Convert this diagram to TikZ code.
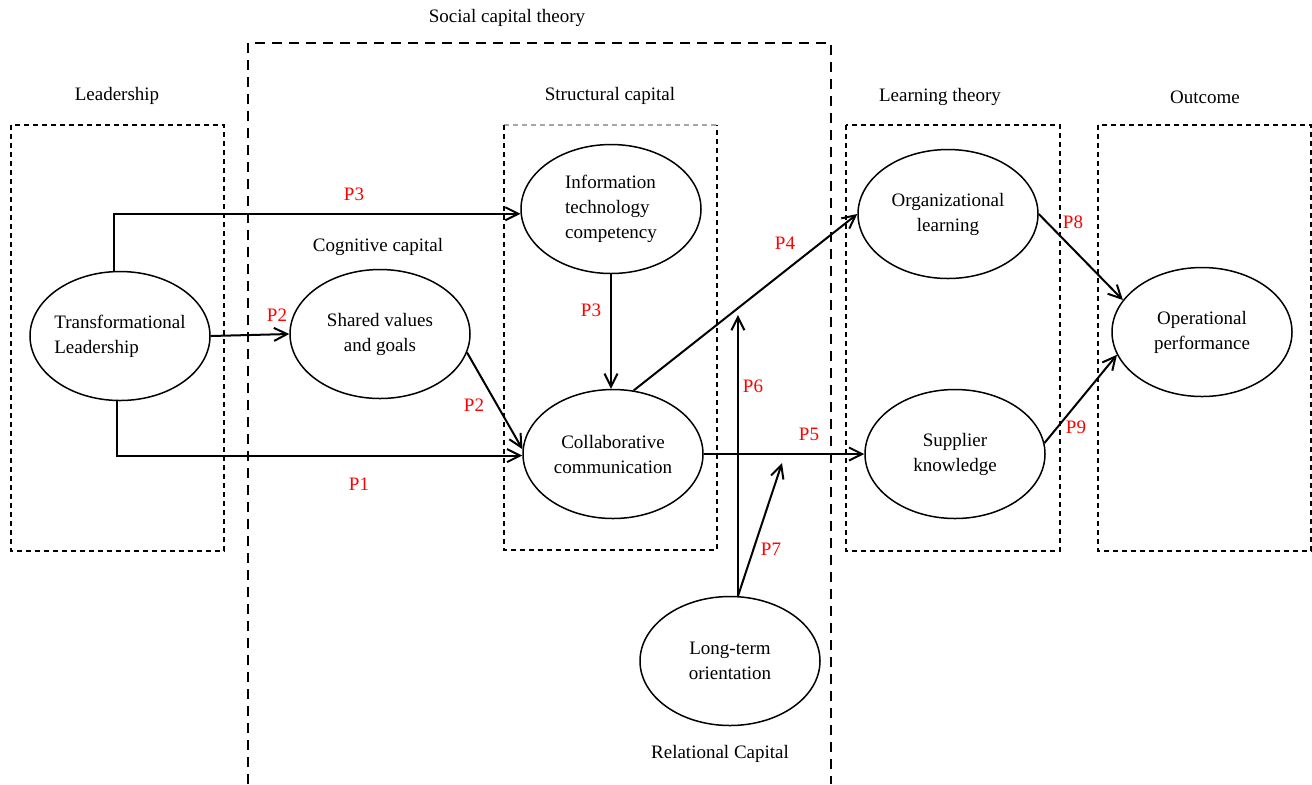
\documentclass[tikz,border=0pt]{standalone}
\usepackage{fontspec}
\setmainfont{Liberation Serif}
\usetikzlibrary{arrows.meta,shapes,calc}

\begin{document}
\begin{tikzpicture}[x=0.5pt,y=-0.5pt,
	every node/.style={font=\fontsize{9.5}{12.5}\selectfont},
	construct/.style={draw,ellipse,line width=0.75pt,minimum width=90pt,minimum height=64.5pt,inner sep=0pt,align=center},
	plabel/.style={text=red},
	link/.style={line width=1pt},
	shortdash/.style={line width=0.65pt,dash pattern=on 2.5pt off 2pt},
	longdash/.style={line width=0.65pt,dash pattern=on 5pt off 3.5pt},
	>={Straight Barb[length=6.5pt,width=6.5pt]}]
	
	\useasboundingbox (0,0) rectangle (1312,784);
	
	% boxes
	\draw[shortdash] (11,125) rectangle (224,551);
	\draw[longdash] (248,784) -- (248,43) -- (831,43) -- (831,784);
	\draw[shortdash,gray!70] (504,125) -- (717,125);
	\draw[shortdash] (504,125) -- (504,550) -- (717,550) -- (717,125);
	\draw[shortdash] (846,125) rectangle (1060,551);
	\draw[shortdash] (1098,125) rectangle (1311,551);
	
	\node (social) at (507,18) {Social capital theory};
	\node (lead) at (117,96) {Leadership};
	\node (struct) at (610,96) {Structural capital};
	\node (learn) at (940,97) {Learning theory};
	\node (outcome) at (1205,97) {Outcome};
	\node (cogn) at (378,247) {Cognitive capital};
	\node (relat) at (720,754) {Relational Capital};
	
	\node[construct,align=left,inner xsep=-2pt] (tl) at (120,336) {Transformational\\Leadership};
	\node[construct] (sv) at (380,334) {Shared values\\and goals};
	\node[construct,align=left,inner xsep=-2pt] (it) at (611,209) {Information\\technology\\competency};
	\node[construct] (cc) at (613,454) {Collaborative\\communication};
	\node[construct] (lt) at (730,661) {Long-term\\orientation};
	\node[construct] (ol) at (948,214) {Organizational\\learning};
	\node[construct] (sk) at (955,454) {Supplier\\knowledge};
	\node[construct] (op) at (1202,332) {Operational\\performance};
	
	\coordinate (p6end) at (738,315);
	\coordinate (p7end) at (782,463);
	
	\draw[link,->] (tl.95) |- (it.183);
	\draw[link,->] (tl.east) -- (sv.west);
	\draw[link,->] (tl.-93) |- (cc.181);
	\draw[link,->] (sv.-12) -- (cc.177);
	\draw[link,->] (it.south) -- (it.south |- cc.north);
	\draw[link,->] (cc.72) -- (ol.west);
	\draw[link,->] (cc.east) -- (sk.west);
	\draw[link,->] (lt.83) -- (lt.83 |- p6end);
	\draw[link,->] (lt.83) -- (p7end);
	\draw[link,->] (ol.east) -- (op.158);
	\draw[link,->] (sk.7) -- (op.195);
	
	\node[plabel] (l3a) at (354,194) {P3};
	\node[plabel] (l2a) at (277,315) {P2};
	\node[plabel] (l1) at (359,484) {P1};
	\node[plabel] (l2b) at (474,405) {P2};
	\node[plabel] (l3b) at (591,310) {P3};
	\node[plabel] (l4) at (785,243) {P4};
	\node[plabel] (l5) at (809,434) {P5};
	\node[plabel] (l6) at (753,386) {P6};
	\node[plabel] (l7) at (771,549) {P7};
	\node[plabel] (l8) at (1073,222) {P8};
	\node[plabel] (l9) at (1076,427) {P9};
	
\end{tikzpicture}
\end{document}
